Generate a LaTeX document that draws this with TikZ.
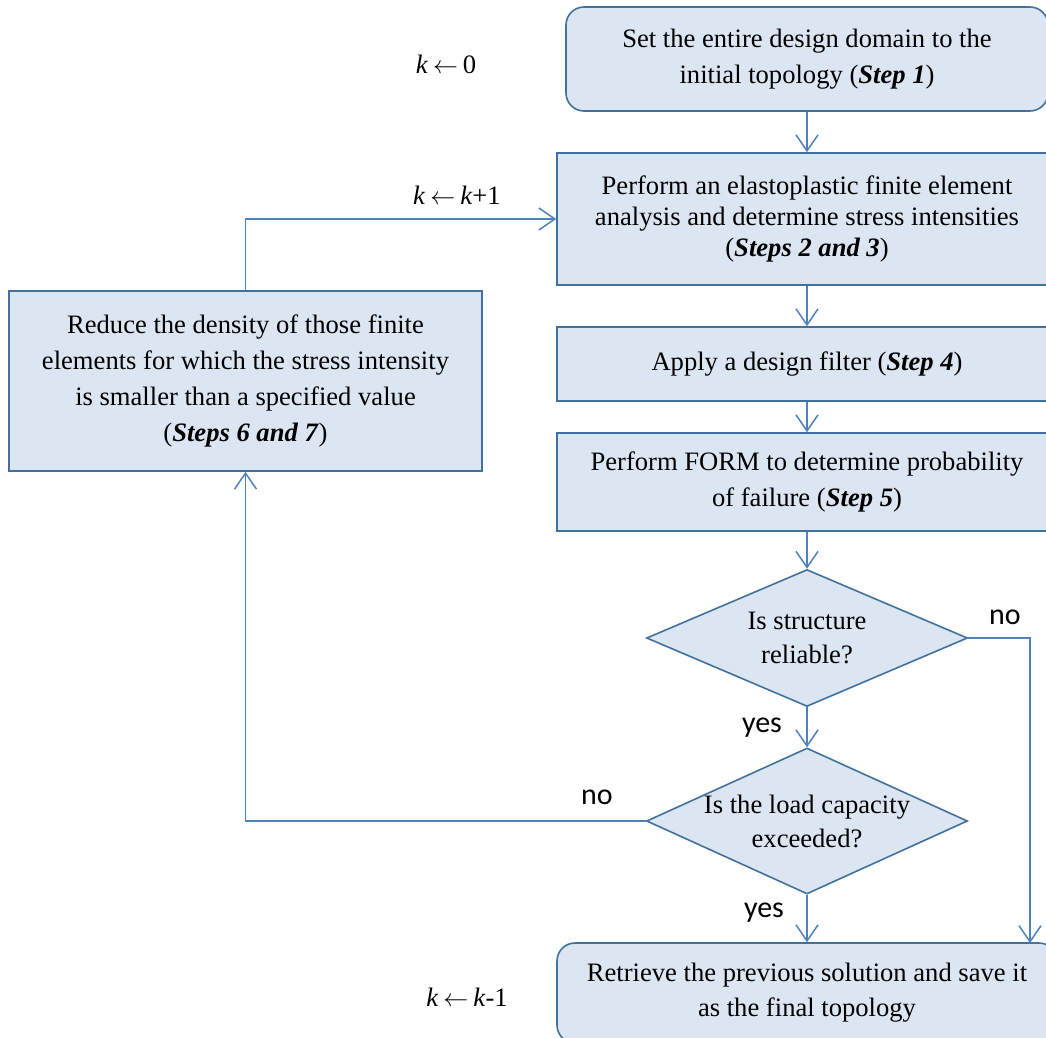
\documentclass[tikz,border=0pt]{standalone}
\usepackage{fontspec}
\setmainfont{Liberation Serif}
\newfontfamily\labfont{Carlito}
\usetikzlibrary{shapes.geometric,arrows.meta}
\definecolor{boxfill}{HTML}{DCE6F2}
\definecolor{boxline}{HTML}{41719C}
\definecolor{conn}{HTML}{4F81BD}
\newcommand{\karr}{\kern5pt$\leftarrow$\kern5pt}
\begin{document}
\begin{tikzpicture}[x=1pt,y=-1pt,
  base/.style={draw=boxline,fill=boxfill,line width=1.6pt,inner sep=0pt,align=center,
    font=\fontsize{26.6}{36}\selectfont},
  stepbox/.style={base,rectangle},
  roundbox/.style={base,rectangle,rounded corners=18pt},
  decision/.style={base,diamond},
  dtext/.style={align=center,font=\fontsize{26.6}{34}\selectfont},
  yn/.style={font=\labfont\fontsize{30}{30}\selectfont,inner sep=0pt},
  kl/.style={font=\fontsize{26.6}{30}\selectfont,inner sep=0pt},
  conn/.style={draw=conn,line width=1.5pt},
  arr/.style={conn,-{Straight Barb[length=16pt,width=22pt,line width=1.5pt]}}
]
\clip (0,0) rectangle (1046,1037);
\useasboundingbox (0,0) rectangle (1046,1037);

\node[roundbox,minimum width=482pt,minimum height=104pt] (b1) at (807,59)
  {Set the entire design domain to the\\initial topology (\textbf{\textit{Step 1}})};
\node[stepbox,minimum width=500pt,minimum height=132pt,font=\fontsize{26.6}{31}\selectfont] (b2) at (807,219)
  {Perform an elastoplastic finite element\\analysis and determine stress intensities\\(\textbf{\textit{Steps 2 and 3}})};
\node[stepbox,minimum width=500pt,minimum height=74pt] (b3) at (807,364)
  {Apply a design filter (\textbf{\textit{Step 4}})};
\node[stepbox,minimum width=500pt,minimum height=98pt] (b4) at (807,482)
  {Perform FORM to determine probability\\of failure (\textbf{\textit{Step 5}})};
\node[decision,minimum width=321pt,minimum height=137pt] (d1) at (807,638) {};
\node[dtext] (d1t) at (d1.center) {Is structure\\reliable?};
\node[decision,minimum width=321pt,minimum height=146pt] (d2) at (807,821) {};
\node[dtext] (d2t) at (d2.center) {Is the load capacity\\exceeded?};
\node[roundbox,minimum width=500pt,minimum height=100pt,font=\fontsize{26.6}{35}\selectfont] (b5) at (807,993)
  {Retrieve the previous solution and save it\\as the final topology};
\node[stepbox,minimum width=473pt,minimum height=180pt] (L) at (245.5,381)
  {Reduce the density of those finite\\elements for which the stress intensity\\is smaller than a specified value\\(\textbf{\textit{Steps 6 and 7}})};

\draw[arr] (b1.south) -- (b2.north);
\draw[arr] (b2.south) -- (b3.north);
\draw[arr] (b3.south) -- (b4.north);
\draw[arr] (b4.south) -- (d1.north);
\draw[arr] (d1.south) -- (d2.north);
\draw[arr] (d2.south) -- (b5.north);
\coordinate (rc) at (1030,943);
\draw[arr] (d1.east) -| (rc);
\draw[arr] (d2.west) -| (L.south);
\draw[arr] (L.north) |- (b2.west);

\node[yn] (no1) at (1005,617) {no};
\node[yn] (no2) at (597,797) {no};
\node[yn] (yes1) at (762,728) {yes};
\node[yn] (yes2) at (764,913) {yes};

\node[kl] (k0) at (446,64) {\textit{k}\karr 0};
\node[kl] (k1) at (457,195) {\textit{k}\karr\textit{k}+1};
\node[kl] (k2) at (467,997) {\textit{k}\karr\textit{k}-1};
\end{tikzpicture}
\end{document}
